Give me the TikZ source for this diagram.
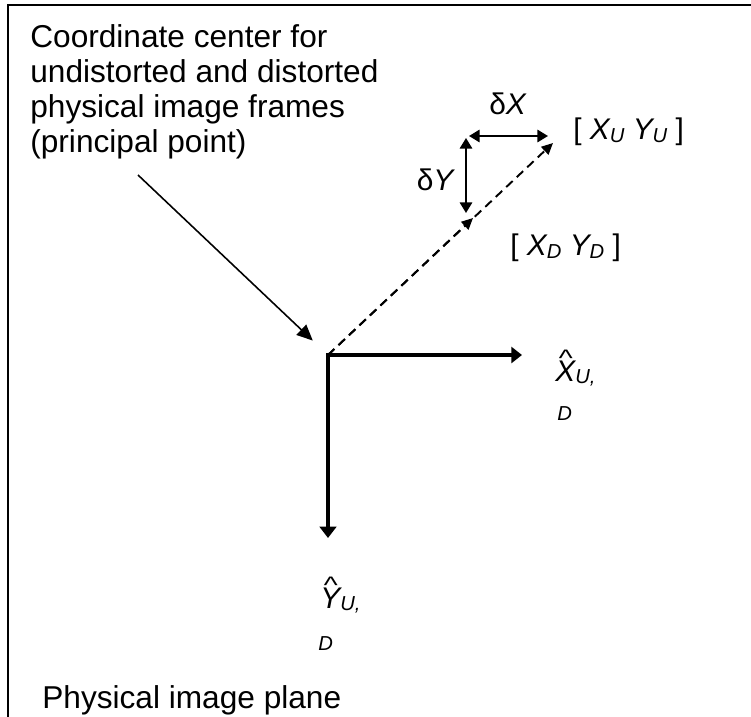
\documentclass[tikz,border=0pt]{standalone}
\usepackage{fontspec}
\setmainfont{Liberation Sans}
\usetikzlibrary{arrows.meta, positioning, calc}

\newcommand{\lowsub}[1]{\raisebox{-0.1em}{\fontsize{11.5}{13}\selectfont #1}}
\newcommand{\hatletter}[1]{\ooalign{#1\cr\hidewidth\raisebox{0.47em}{\scalebox{1}[0.8]{\textasciicircum}}\hidewidth\cr}}

\begin{document}
\begin{tikzpicture}[x=0.02cm, y=-0.02cm,
    notetext/.style={align=left, inner sep=0pt, font=\fontsize{18}{20}\selectfont},
    lbl/.style={inner sep=0pt, font=\fontsize{17}{19}\selectfont},
    sublbl/.style={inner sep=0pt, font=\fontsize{11.5}{13}\selectfont\itshape},
    axis/.style={line width=2.8pt, line join=miter,
        {Triangle[length=6.5pt,width=9.5pt]}-{Triangle[length=6pt,width=9pt]}},
    pointer/.style={line width=0.9pt, -{Triangle[length=9pt,width=8pt]}},
    dashline/.style={line width=1.1pt, dash pattern=on 5pt off 3.2pt,
        -{Triangle[length=6.5pt,width=6pt]}},
    deltaarrow/.style={line width=1.1pt,
        {Triangle[length=6pt,width=7pt]}-{Triangle[length=6pt,width=7pt]}}]
    \useasboundingbox (0,0) rectangle (751,717);
    % 1. Frame of the image plane (top and left edges)
    \draw[line width=1.5pt] (8,717) -- (8,5) -- (751,5);
    % 2. Points
    \coordinate (origin) at (328,355);
    \coordinate (undist) at (553,143);
    \coordinate (dist) at (473,218);
    \coordinate (xend) at (522,355);
    \coordinate (yend) at (328,538);
    \coordinate (dxl) at (469,136);
    \coordinate (dxr) at (548,136);
    \coordinate (dyt) at (466,138);
    \coordinate (dyb) at (466,213);
    \coordinate (tail) at (138,175);
    % 3. Texts
    \node[notetext, anchor=north west] (note) at (30,24)
        {Coordinate center for\\undistorted and distorted\\physical image frames\\(principal point)};
    \node[notetext, anchor=base west] (plane) at (42,708) {Physical image plane};
    \node[lbl] (dxlabel) at (508,104) {δ\textit{X}};
    \node[lbl] (dylabel) at (436,180) {δ\textit{Y}};
    \node[lbl, anchor=west] (ulabel) at (573,132) {[ \textit{X\lowsub{U} Y\lowsub{U}} ]};
    \node[lbl, anchor=west] (dlabel) at (510,248) {[ \textit{X\lowsub{D} Y\lowsub{D}} ]};
    \node[lbl, anchor=base west] (xhat) at (555,381) {\itshape\hatletter{X}\lowsub{U,}};
    \node[sublbl, anchor=base west] (xhatd) at (557,420) {D};
    \node[lbl, anchor=base west] (yhat) at (320,608) {\itshape\hatletter{Y}\lowsub{U,}};
    \node[sublbl, anchor=base west] (yhatd) at (318,650) {D};
    % 4. Axes
    \draw[axis] (yend) -- (origin) -- (xend);
    % 5. Image points and shifts
    \draw[dashline] (origin) -- (dist);
    \draw[dashline] (origin) -- (undist);
    \draw[deltaarrow] (dxl) -- (dxr);
    \draw[deltaarrow] (dyt) -- (dyb);
    % 6. Pointer to the coordinate center
    \draw[pointer, shorten >=0.42cm] (tail) -- (origin);
\end{tikzpicture}
\end{document}
